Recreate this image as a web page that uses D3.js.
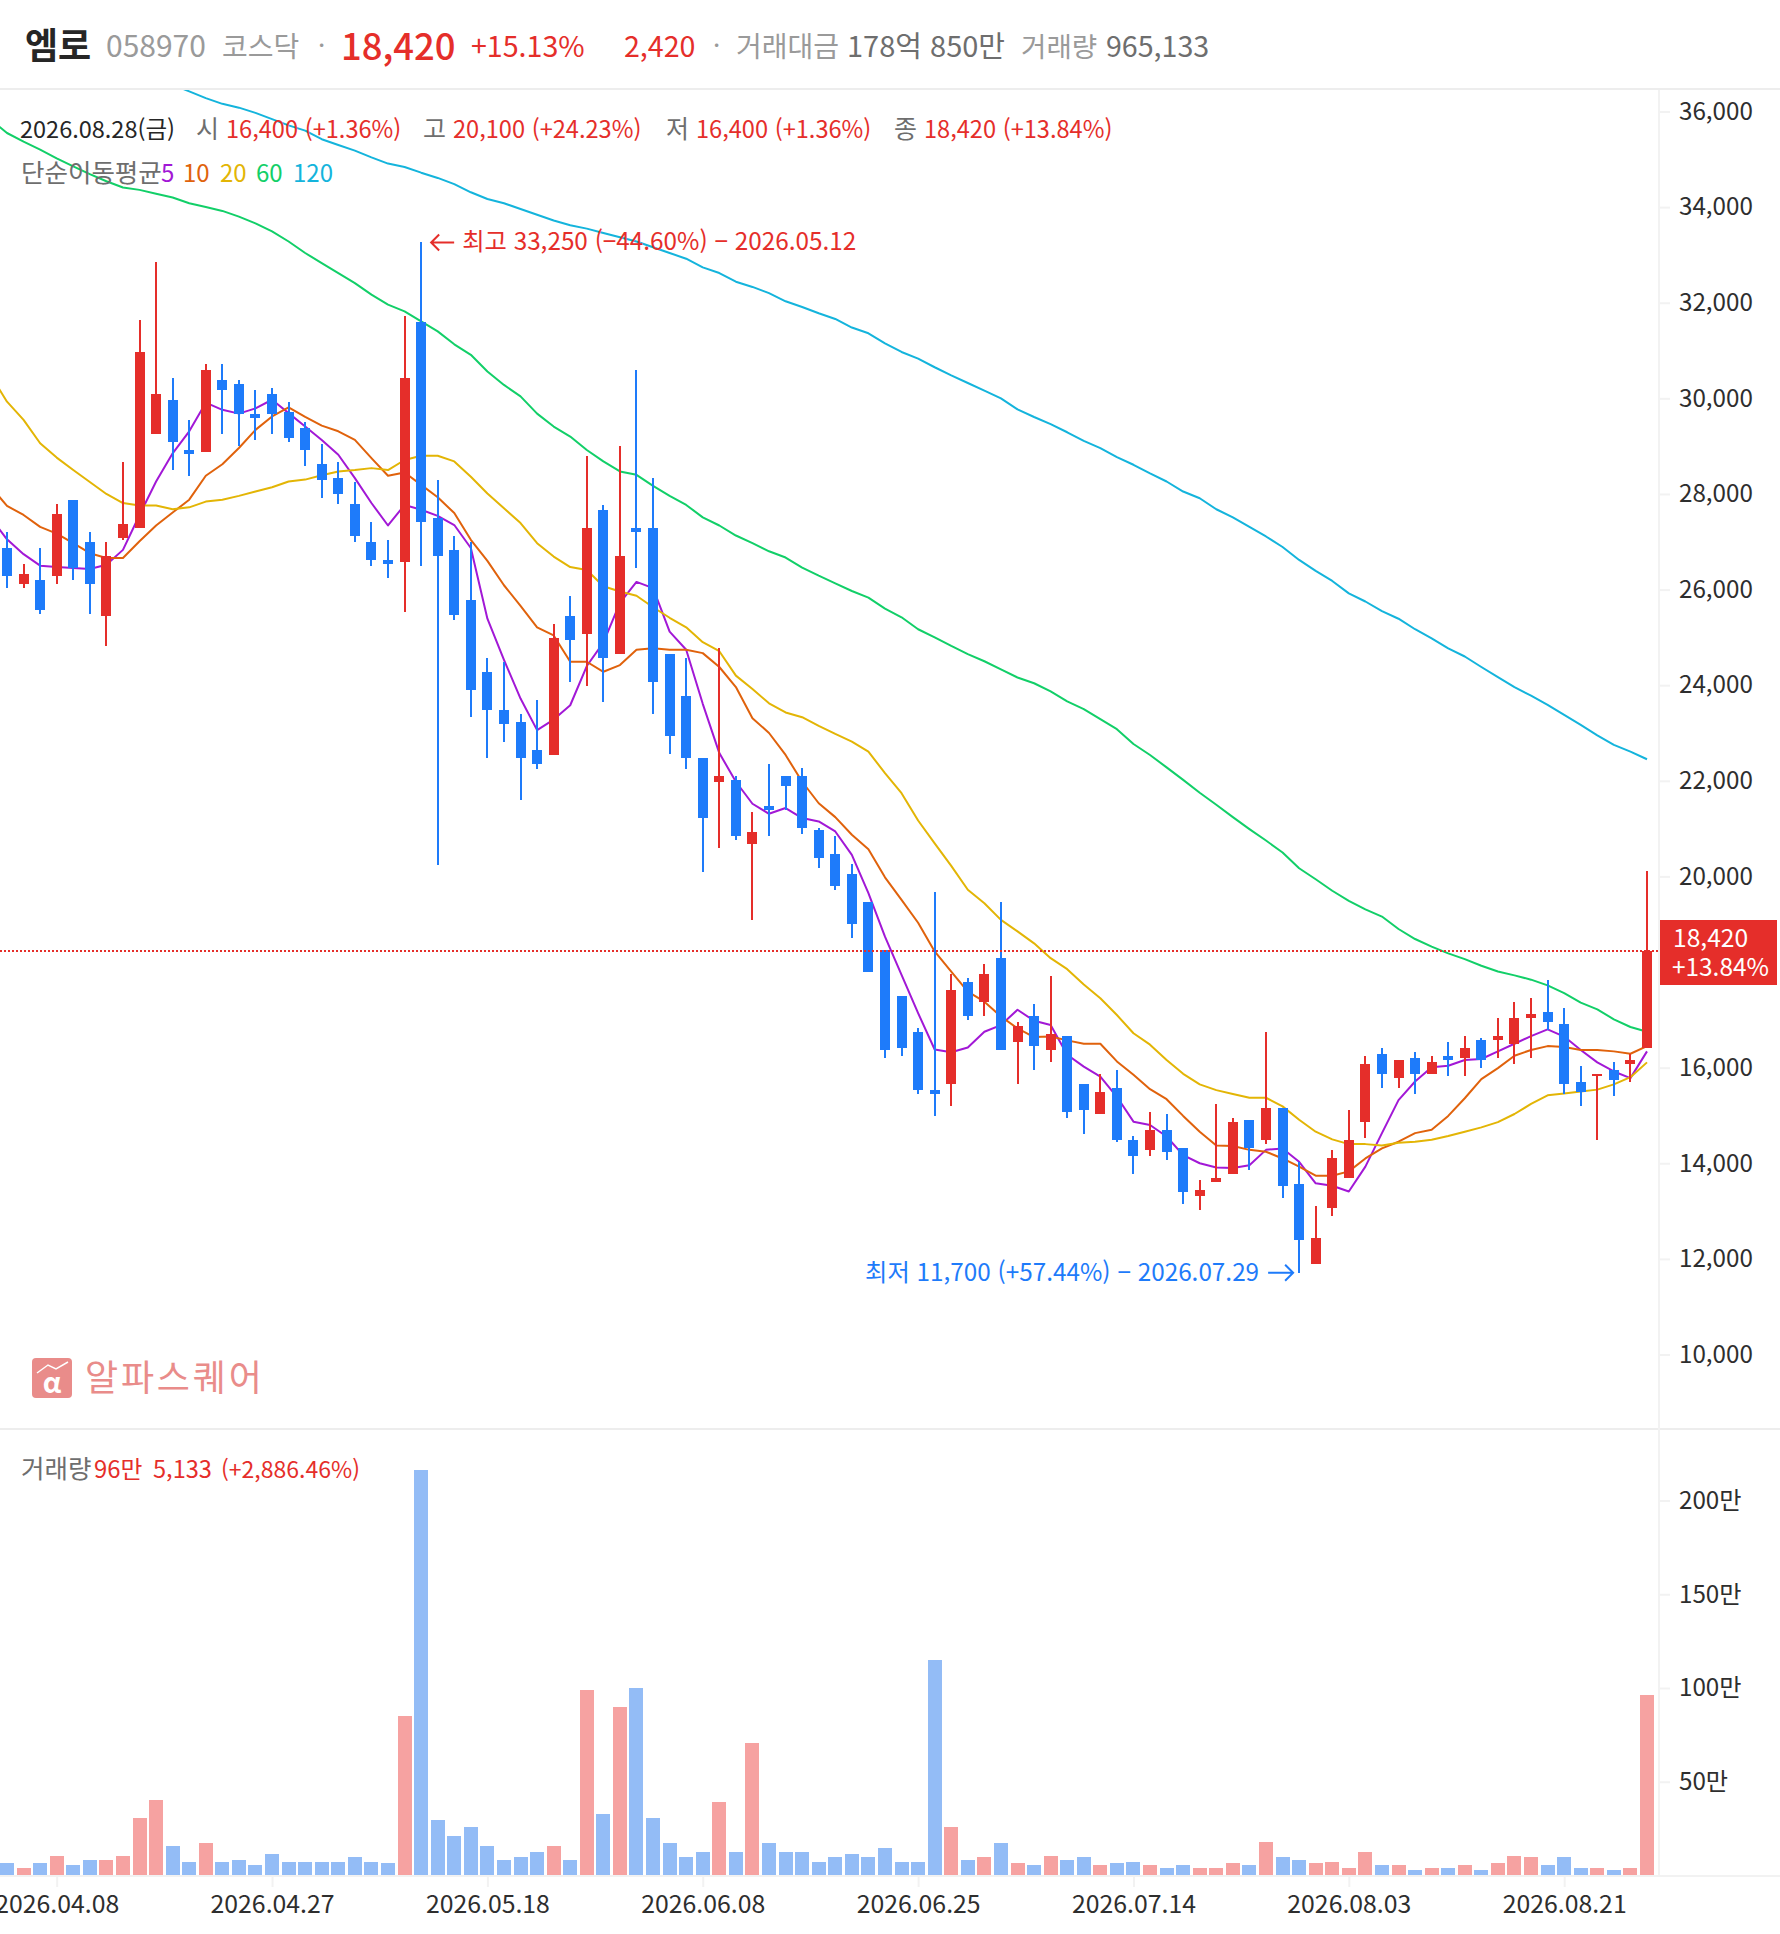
<!DOCTYPE html>
<html lang="ko">
<head>
<meta charset="utf-8">
<title>엠로 058970</title>
<script src="https://cdn.jsdelivr.net/npm/d3@7/dist/d3.min.js"></script>
<style>
html,body{margin:0;padding:0;background:#fff}
svg{display:block}
text{font-family:"Noto Sans CJK KR","Noto Sans",sans-serif}
</style>
</head>
<body>
<svg id="chart" width="1780" height="1934"></svg>
<script>
// ---- Data ----
const highs=[27200,26530,26860,27780,27870,27200,26990,28660,31630,32850,30420,29540,30710,30710,30380,30170,30210,29920,29500,29040,28660,28240,27410,27030,31720,33250,28280,27120,26980,24560,24480,23390,23690,25270,25860,28780,27750,29000,30590,28330,24650,24560,22470,24770,22090,21340,22340,22090,22260,21000,20840,20250,19460,18450,17490,16820,19670,17950,17870,18160,19460,16950,17320,17910,16650,15650,15860,15940,14560,15060,15020,14310,13640,15230,14940,14900,16740,15150,14020,13100,14270,15110,16240,16400,16150,16320,16240,16530,16650,16610,17030,17360,17450,17820,17240,16030,15860,16110,16280,20100];
const lows=[26030,26030,25480,26110,26190,25480,24810,27030,27280,29250,28490,28370,28870,29250,29000,29120,29250,29080,28580,27910,27780,26990,26490,26240,25520,26490,20220,25360,23320,22470,22810,21590,22230,22520,24060,23980,23640,24650,26440,23390,22550,22230,20090,20590,20750,19080,20840,21380,20880,20170,19710,18700,17990,16190,16240,15440,14980,15190,16990,17070,16360,15650,15940,16110,14940,14600,15020,14440,13770,14140,14060,13140,13010,13600,13770,13850,14390,13260,11700,11880,12890,13680,14520,15570,15570,15440,15860,15820,15820,15980,16190,16070,16190,16780,15440,15190,14480,15400,15690,16400];
const opens=[26860,26110,26190,26280,27870,26990,25440,27070,27280,29250,29960,28910,28870,30380,30290,29670,30080,29710,29370,28620,28330,27780,26990,26610,26570,31590,27490,26820,25770,24270,23480,23220,22640,22520,25440,25060,27660,24650,27280,27280,24650,23770,22470,21970,22010,20670,21470,22090,22090,20960,20460,20040,19460,18450,17490,16740,15520,15650,17780,17360,18290,16530,17070,16360,16650,15650,15020,15570,14480,14270,14690,14310,13310,13600,13770,14900,14480,15150,13560,11880,13060,13680,14850,16280,15770,16190,15860,16240,16190,16570,16570,16490,17030,17160,16900,15690,15820,15940,16070,16400];
const closes=[26280,26320,25570,27570,26440,26110,26700,27370,30960,30080,29080,28830,30590,30170,29670,29580,29670,29160,28910,28290,27990,27110,26610,26530,30420,27410,26700,25450,23890,23480,23180,22470,22350,24980,24940,27280,24560,26700,27200,24060,22930,22470,21220,22090,20840,20920,21380,21880,21000,20380,19790,19000,17990,16360,16400,15520,15440,17620,17070,17950,16360,16860,16440,16700,15060,15110,15480,14480,14140,14690,14230,13390,13430,13680,14850,14310,15150,13520,12390,12430,14100,14480,16070,15860,16150,15860,16110,16150,16400,16150,16650,17030,17110,16950,15650,15480,15860,15730,16150,18420];
const volumes=[6.7,4.4,6.7,10.9,5.7,8.7,8.7,10.9,31.1,40.8,16.2,7.7,17.4,7.7,8.7,5.7,11.9,7.7,7.7,7.7,7.7,9.9,7.7,6.7,85.5,216.8,30.1,21.6,25.9,16.2,8.7,9.9,12.9,16.2,8.7,99.4,33.3,89.9,100.4,31.1,17.4,9.9,12.9,39.6,12.9,70.7,17.4,12.9,12.9,7.7,9.9,11.9,9.9,15.2,7.7,7.7,115.4,25.9,8.7,9.9,17.4,6.7,5.7,10.9,8.7,9.9,5.7,6.7,7.7,5.7,4.4,5.7,4.4,4.4,6.7,5.7,18.4,9.9,8.7,6.7,7.7,4.4,12.9,5.7,5.7,3.4,4.4,4.4,5.7,3.4,6.7,10.9,9.9,5.7,9.9,4.4,4.4,3.4,4.4,96.5];
// Moving averages: first value belongs to the session just left of the visible window (index -1)
const ma5=[27500,27040,26730,26490,26460,26440,26420,26510,26820,27550,28250,28840,29300,29900,29750,29670,29780,29960,29680,29400,29120,28810,28320,27800,27330,27760,27660,27530,27340,26860,25380,24520,23710,23050,23270,23570,24390,24880,25710,26150,26020,25110,24730,23600,22570,21970,21510,21300,21420,21210,21140,20930,20440,19640,18730,17930,17130,16370,16310,16410,16740,16880,17200,16970,16880,16260,16010,15800,15380,14860,14790,14550,14160,13990,13900,13890,13950,14270,14300,14020,13570,13520,13400,13920,14620,15310,15700,16000,16030,16150,16170,16330,16490,16650,16790,16640,16360,16100,15910,15770,16330];
const ma10=[28150,27740,27550,27300,27160,26960,26750,26650,26650,27000,27330,27600,27870,28370,28610,28950,29330,29610,29800,29600,29420,29300,29120,28740,28370,28440,28180,27920,27590,27030,26590,26080,25650,25200,25030,24480,24480,24270,24410,24730,24760,24730,24730,24660,24370,23950,23300,22990,22530,21970,21520,21230,20860,20560,19970,19500,19020,18420,18000,17580,17370,17060,16810,16630,16640,16560,16490,16490,16120,15840,15540,15330,14980,14650,14360,14350,14270,14230,14090,13920,13730,13730,13820,14090,14300,14440,14620,14690,14980,15350,15750,15980,16240,16360,16440,16420,16360,16360,16330,16280,16440];
const ma20=[30480,29920,29540,29050,28750,28490,28240,27990,27800,27750,27750,27670,27710,27830,27870,27950,28040,28130,28250,28290,28380,28460,28490,28530,28490,28700,28790,28790,28670,28350,28000,27690,27380,26960,26680,26460,26400,26060,25950,25860,25620,25400,25200,24890,24700,24190,23910,23610,23420,23320,23140,22970,22810,22600,22150,21730,21160,20680,20210,19710,19430,19080,18840,18590,18280,18050,17730,17440,17090,16710,16470,16150,15860,15640,15520,15440,15360,15360,15180,14900,14650,14490,14390,14390,14360,14420,14440,14480,14560,14650,14740,14850,15020,15230,15410,15450,15490,15530,15640,15790,16100];
const ma60=[35820,35540,35360,35190,35010,34840,34680,34530,34400,34350,34270,34190,34070,33990,33910,33790,33650,33480,33270,33030,32820,32610,32400,32160,31950,31810,31600,31390,31120,30900,30550,30270,30030,29670,29400,29190,28910,28670,28460,28390,28160,27950,27760,27500,27330,27120,26960,26790,26660,26450,26280,26120,25960,25820,25590,25410,25160,24990,24810,24640,24490,24320,24150,24030,23860,23650,23490,23280,23070,22760,22530,22270,22010,21740,21490,21230,20980,20740,20490,20160,19930,19690,19480,19300,19150,18890,18680,18520,18380,18260,18120,18000,17920,17830,17710,17550,17350,17210,17000,16840,16740];
// The 120-day line only enters the panel from session index 9 onward
const ma120Start=9;
const ma120=[36690,36550,36410,36270,36150,36070,35960,35830,35700,35590,35410,35290,35170,35030,34900,34830,34710,34600,34470,34300,34160,34070,33950,33830,33710,33610,33540,33450,33360,33270,33150,33030,32910,32730,32610,32430,32320,32190,32020,31900,31770,31650,31470,31350,31140,30960,30820,30640,30470,30310,30150,29990,29760,29600,29450,29280,29100,28950,28760,28600,28420,28250,28040,27900,27670,27500,27300,27100,26880,26610,26380,26170,25910,25740,25540,25380,25160,24970,24760,24590,24370,24160,23950,23770,23580,23370,23160,22940,22740,22600,22440];
const priceTicks=[10000,12000,14000,16000,18000,20000,22000,24000,26000,28000,30000,32000,34000,36000].filter(d=>d!==18000);
const volumeTicks=[50,100,150,200];
const dateTickIndex=[3,16,29,42,55,68,81,94];
const dateTickLabels=["2026.04.08","2026.04.27","2026.05.18","2026.06.08","2026.06.25","2026.07.14","2026.08.03","2026.08.21"];

// ---- Style ----
const RED="#E52E2A",BLUE="#1E7BFA",VRED="#F6A2A1",VBLUE="#93BCF6",GRID="#F2F2F2",SEP="#EDEDED";
const MA=[{k:"5",c:"#A218D6",d:ma5,s:-1},{k:"10",c:"#E0620C",d:ma10,s:-1},{k:"20",c:"#E3B505",d:ma20,s:-1},{k:"60",c:"#12CF68",d:ma60,s:-1},{k:"120",c:"#14B4DC",d:ma120,s:ma120Start}];

const svg=d3.select("#chart");
const x=d3.scaleLinear().domain([0,99]).range([7,1647]);
const y=d3.scaleLinear().domain([10000,36000]).range([1354,111]);
const yv=d3.scaleLinear().domain([0,200]).range([1876,1501]);
const fmt=d3.format(",");

svg.append("defs").append("clipPath").attr("id","plot").append("rect").attr("x",0).attr("y",90).attr("width",1659).attr("height",1338);

// Frame
svg.append("rect").attr("x",0).attr("y",88).attr("width",1780).attr("height",2).attr("fill",SEP);
svg.append("rect").attr("x",0).attr("y",1428).attr("width",1780).attr("height",2).attr("fill",SEP);
svg.append("rect").attr("x",1658).attr("y",90).attr("width",2).attr("height",1786).attr("fill",GRID);
svg.append("rect").attr("x",0).attr("y",1875).attr("width",1780).attr("height",2).attr("fill",GRID);

function styleAxis(size){
  return g=>{
    g.select(".domain").remove();
    g.selectAll(".tick line").attr("stroke",GRID).attr("stroke-width",2);
    g.selectAll(".tick text").attr("fill","#2E2E2E").attr("font-size",size).attr("font-family",'"Noto Sans CJK KR"');
  };
}
svg.append("g").attr("transform","translate(1659,0.5)")
  .call(d3.axisRight(y).tickValues(priceTicks).tickSize(11).tickPadding(9).tickFormat(fmt)).call(styleAxis(24.2));
svg.append("g").attr("transform","translate(1659,-0.5)")
  .call(d3.axisRight(yv).tickValues(volumeTicks).tickSize(11).tickPadding(9).tickFormat(d=>d+"만")).call(styleAxis(24.2));
svg.append("g").attr("transform","translate(0,1876)")
  .call(d3.axisBottom(x).tickValues(dateTickIndex).tickSize(11).tickPadding(8).tickFormat((d,i)=>dateTickLabels[i])).call(styleAxis(24.8));

// Moving averages
const plot=svg.append("g").attr("clip-path","url(#plot)");
MA.forEach(m=>{
  const line=d3.line().x((d,i)=>x(i+m.s)).y(d=>y(d));
  plot.append("path").attr("d",line(m.d)).attr("fill","none").attr("stroke",m.c).attr("stroke-width",2).attr("stroke-linejoin","round");
});

// Candles
const idx=d3.range(closes.length);
const up=i=>closes[i]>=opens[i];
const colr=i=>up(i)?RED:BLUE;
const cg=plot.append("g").attr("shape-rendering","crispEdges");
cg.selectAll(".w").data(idx).join("rect").attr("class","w")
  .attr("x",i=>Math.round(x(i))-1).attr("width",2)
  .attr("y",i=>Math.round(y(highs[i]))).attr("height",i=>Math.max(1,Math.round(y(lows[i]))-Math.round(y(highs[i]))))
  .attr("fill",colr);
cg.selectAll(".b").data(idx).join("rect").attr("class","b")
  .attr("x",i=>Math.round(x(i))-5).attr("width",10)
  .attr("y",i=>Math.round(y(Math.max(opens[i],closes[i]))))
  .attr("height",i=>Math.max(2,Math.round(y(Math.min(opens[i],closes[i])))-Math.round(y(Math.max(opens[i],closes[i])))))
  .attr("fill",colr);

// Current price line
const last=closes[closes.length-1];
svg.append("line").attr("x1",0).attr("x2",1659).attr("y1",Math.round(y(last))).attr("y2",Math.round(y(last)))
  .attr("stroke",RED).attr("stroke-width",2).attr("stroke-dasharray","2 2").attr("shape-rendering","crispEdges");
svg.append("rect").attr("x",1660).attr("y",920).attr("width",117).attr("height",65).attr("fill",RED);
svg.append("text").attr("x",1673).attr("y",947).attr("fill","#fff").attr("font-size",24.6).text(fmt(last));
svg.append("text").attr("x",1672).attr("y",976).attr("fill","#fff").attr("font-size",24.4).text("+13.84%");

// Volume bars
svg.append("g").attr("shape-rendering","crispEdges").selectAll("rect").data(idx).join("rect")
  .attr("x",i=>Math.round(x(i))-7).attr("width",14)
  .attr("y",i=>yv(volumes[i])).attr("height",i=>1875-yv(volumes[i]))
  .attr("fill",i=>up(i)?VRED:VBLUE);

// Text helper
function t(xp,yp,str,size,fill,extra={}){
  const s=svg.append("text").attr("x",xp).attr("y",yp).attr("font-size",size).attr("fill",fill).text(str);
  Object.entries(extra).forEach(([k,v])=>s.attr(k,v));
  return s;
}
// Header
const G1="#9A9A9A",G2="#6E6E6E",DK="#262626";
t(25,59,"엠로",36,DK,{"font-weight":700});
t(106,57,"058970",30,G1);
t(222,57,"코스닥",28,G1);
t(318,55,"·",26,G1);
t(341,60,"18,420",36.4,RED,{"font-weight":500});
t(471,57,"+15.13%",28.6,RED);
t(624,57,"2,420",28.6,RED);
t(713,55,"·",26,G1);
t(736,57,"거래대금",28,G1);
t(847,57,"178억 850만",29,G2);
t(1021,57,"거래량",27.6,G1);
t(1106,57,"965,133",28.6,G2);
// OHLC row
t(20,138,"2026.08.28(금)",23.5,DK);
t(196,138,"시",25,G2);
t(226,138,"16,400 (+1.36%)",23.6,RED);
t(423,138,"고",25,G2);
t(453,138,"20,100 (+24.23%)",23.6,RED);
t(666,138,"저",25,G2);
t(696,138,"16,400 (+1.36%)",23.6,RED);
t(894,138,"종",25,G2);
t(924,138,"18,420 (+13.84%)",23.6,RED);
// MA legend
t(21,182,"단순이동평균",25.5,G2);
t(161,182,"5",24,MA[0].c);
t(183,182,"10",24,MA[1].c);
t(220,182,"20",24,MA[2].c);
t(256,182,"60",24,MA[3].c);
t(293,182,"120",24,MA[4].c);

// High / low annotations
const hi=25,lo=78;
const hx=x(hi),hy=y(highs[hi]);
svg.append("path").attr("d",`M${hx+33},${hy}H${hx+10}M${hx+18},${hy-8}L${hx+10},${hy}L${hx+18},${hy+8}`).attr("fill","none").attr("stroke",RED).attr("stroke-width",2);
t(hx+41,hy+8,`최고 ${fmt(highs[hi])} (−44.60%) − 2026.05.12`,24.3,RED);
const lx=x(lo),ly=y(lows[lo]);
svg.append("path").attr("d",`M${lx-31},${ly}H${lx-6}M${lx-14},${ly-8}L${lx-6},${ly}L${lx-14},${ly+8}`).attr("fill","none").attr("stroke",BLUE).attr("stroke-width",2);
t(lx-40,ly+8,`최저 ${fmt(lows[lo])} (+57.44%) − 2026.07.29`,24.3,BLUE,{"text-anchor":"end"});

// Watermark
const LOGO="#E98C8A";
const lg=svg.append("g").attr("transform","translate(32,1358)");
lg.append("rect").attr("width",40).attr("height",40).attr("rx",4).attr("fill",LOGO);
lg.append("path").attr("d","M5,15L16,7L24,11L36,4").attr("fill","none").attr("stroke","#fff").attr("stroke-width",1.5);
lg.append("text").attr("x",20).attr("y",35).attr("text-anchor","middle").attr("fill","#fff").attr("font-size",28).attr("font-weight",700).text("α");
t(85,1391,"알파스퀘어",36,LOGO,{"letter-spacing":"2.8px"});

// Volume legend
t(21,1478,"거래량",25.5,G2);
t(94,1478,"96만",23.8,RED);
t(153,1478,"5,133",23.6,RED);
t(221,1478,"(+2,886.46%)",23,RED);
</script>
</body>
</html>
